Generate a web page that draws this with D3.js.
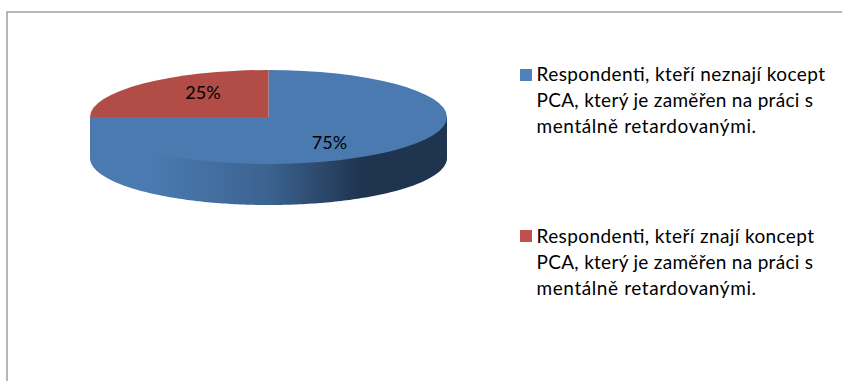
<!DOCTYPE html>
<html><head><meta charset="utf-8">
<script src="https://cdn.jsdelivr.net/npm/d3@7/dist/d3.min.js"></script>
<style>html,body{margin:0;padding:0;background:#fff}svg{display:block}text{font-family:Lato,"Open Sans",sans-serif;fill:#000}</style>
</head><body><svg id="c" width="842" height="381"></svg>
<script>
const categories = ["Respondenti, kteří neznají kocept PCA, který je zaměřen na práci s mentálně retardovanými.","Respondenti, kteří znají koncept PCA, který je zaměřen na práci s mentálně retardovanými."];
const legendLines = [["Respondenti, kteří neznají kocept","PCA, který je zaměřen na práci s","mentálně retardovanými."],["Respondenti, kteří znají koncept","PCA, který je zaměřen na práci s","mentálně retardovanými."]];
const values = [75,25];
const labels = ["75%","25%"];
const topColors = ["#4a7ab0","#b24c47"];
const legendColors = ["#4f81bd","#c0504d"];

const svg = d3.select("#c");
const cx=268.5, cy=117, rx=178.5, ry=47, depth=41;
const defs = svg.append("defs");
const g = defs.append("linearGradient").attr("id","side").attr("gradientUnits","userSpaceOnUse")
  .attr("x1",cx-rx).attr("x2",cx+rx).attr("y1",0).attr("y2",0);
[[0,"#4a7ab0"],[0.18,"#4a7ab0"],[0.5,"#3c6391"],[0.76,"#1f344f"],[1,"#1f344f"]].forEach(s=>g.append("stop").attr("offset",s[0]).attr("stop-color",s[1]));

// frame
svg.append("path").attr("d","M7 381V12H842").attr("fill","none").attr("stroke","#a0a0a0").attr("stroke-width",1.5);

const arcs = d3.pie().sort(null)(values);
const arc = d3.arc().innerRadius(0).outerRadius(1);
const x = d3.scaleLinear().domain([-1,1]).range([cx-rx,cx+rx]);
const y = d3.scaleLinear().domain([-1,1]).range([cy-ry,cy+ry]);

// extruded rim: lower half of the ellipse, closed across the centre under the top face
const a = d3.range(0,181,1).map(d=>d*Math.PI/180);
const rim = d3.line()([[x(1),y(0)]].concat(a.map(t=>[x(Math.cos(t)),y(Math.sin(t))+depth]),[[x(-1),y(0)]]));
svg.append("path").attr("d",rim+"Z").attr("fill","url(#side)");

// top faces
svg.append("g").attr("transform",`translate(${cx},${cy}) scale(${rx},${ry})`)
  .selectAll("path").data(arcs).join("path").attr("d",arc).attr("fill",(d,i)=>topColors[i]);

// data labels
const labelPos=[[329.5,149],[203,99]];
svg.selectAll("text.l").data(labels).join("text").attr("class","l")
  .attr("x",(d,i)=>labelPos[i][0]).attr("y",(d,i)=>labelPos[i][1]).attr("text-anchor","middle")
  .attr("font-size",18).text(d=>d);

// legend
const legY=[69,230], baseY=[81,243], lh=25.8;
const lineWidths=[[288.5,276.5,219.5],[277.5,276.5,219.5]];
const leg = svg.selectAll("g.leg").data(legendLines).join("g").attr("class","leg");
leg.append("rect").attr("x",520).attr("y",(d,i)=>legY[i]).attr("width",12).attr("height",12).attr("fill",(d,i)=>legendColors[i]);
leg.each(function(lines,i){
  d3.select(this).selectAll("text").data(lines).join("text")
    .attr("x",536.5).attr("y",(d,j)=>baseY[i]+j*lh).attr("font-size",19)
    .attr("textLength",(d,j)=>lineWidths[i][j]).attr("lengthAdjust","spacing").text(d=>d);
});
</script></body></html>
